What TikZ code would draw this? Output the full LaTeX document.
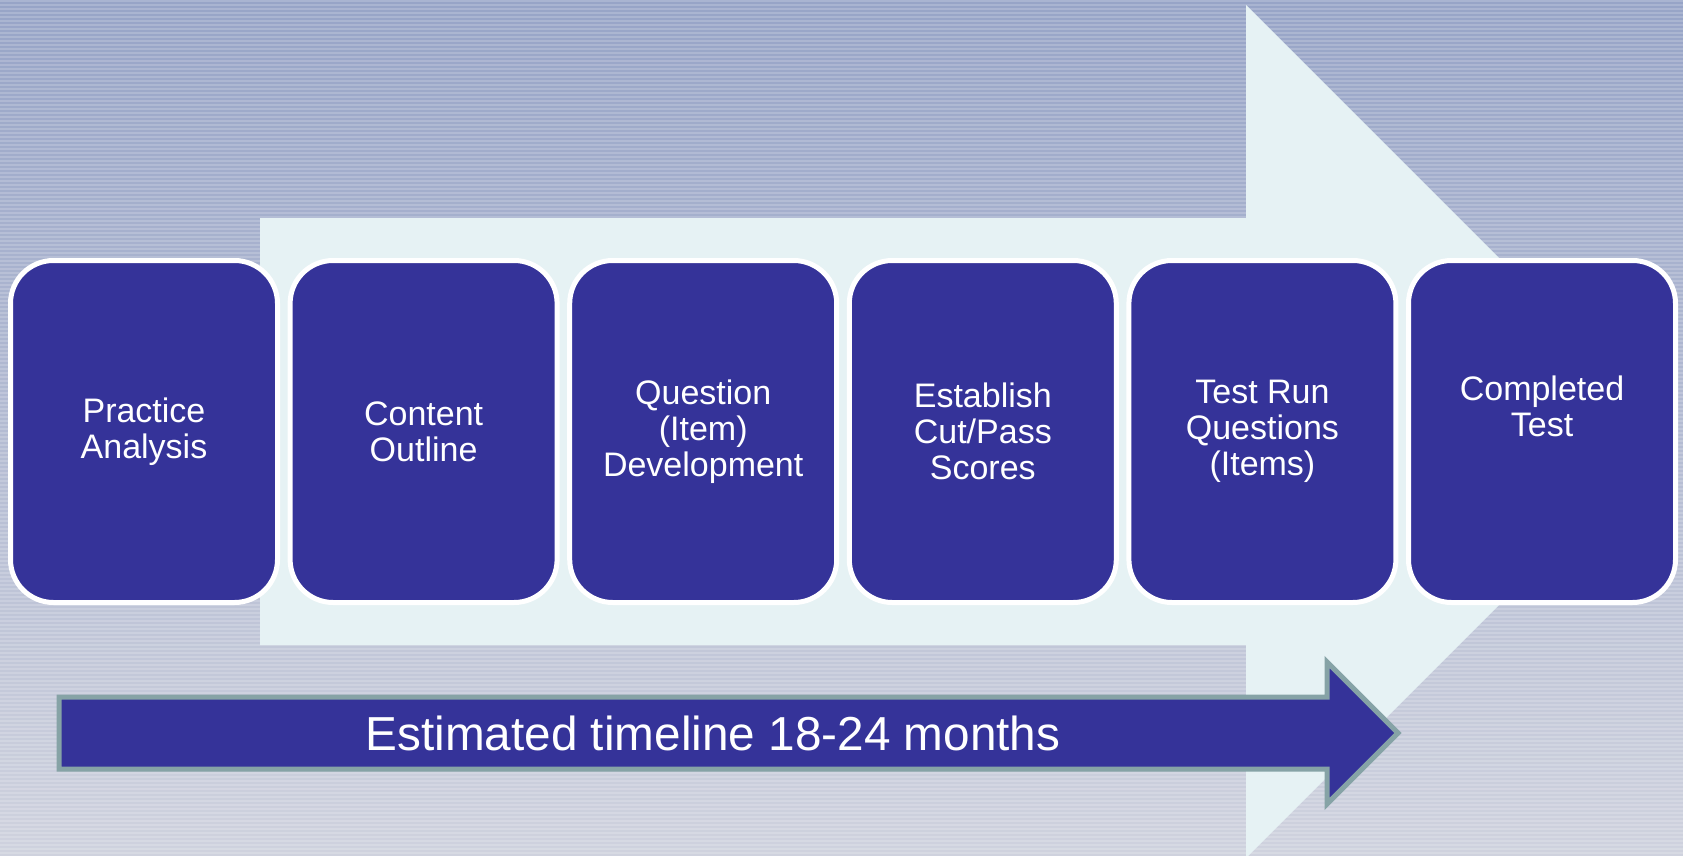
\documentclass[tikz,border=0pt]{standalone}
\usepackage{fontspec}
\setmainfont{Liberation Sans}
\usetikzlibrary{positioning}

\definecolor{stepblue}{RGB}{53,51,153}
\definecolor{arrowpale}{RGB}{230,242,244}
\definecolor{arrowrim}{RGB}{134,163,166}
\definecolor{bgtop}{RGB}{151,164,199}
\definecolor{bgbottom}{RGB}{207,210,222}

\tikzset {
  % thin lines over the background
  stripe/.style = {
    draw = white,
    opacity = 0.18,
    line width = 1.5pt
  },
  % big pale arrow behind the steps
  pale arrow/.style = {
    fill = arrowpale
  },
  % timeline arrow at the bottom
  time arrow/.style = {
    fill = stepblue,
    draw = arrowrim,
    line width = 5pt
  },
  time text/.style = {
    text = white,
    inner sep = 0,
    font = \fontsize{47.7}{50}\selectfont
  }
}
\tikzset {
  % one step of the process
  stepbox/.style = {
    draw = white,
    fill = stepblue,
    line width = 5pt,
    rounded corners = 43pt,
    minimum width = 267pt,
    minimum height = 342pt,
    inner sep = 0,
    align = center,
    text = white,
    font = \fontsize{34}{36}\selectfont
  },
  node distance = 7.6pt
}

\begin{document}
\begin{tikzpicture}[x=1pt, y=-1pt]
    \useasboundingbox (0,0) rectangle (1683,856);

    % background
    \shade[top color=bgtop, bottom color=bgbottom] (0,0) rectangle (1683,856);
    \foreach \ypos in {1,5,...,856}
      \draw[stripe] (0,\ypos) -- (1683,\ypos);

    % pale arrow
    \fill[pale arrow] (260,218)
      -- (1246,218)
      -- (1246,5)
      -- (1672.5,431.5)
      -- (1246,858)
      -- (1246,645)
      -- (260,645)
      -- cycle;

    % steps
    \node[stepbox] (practice) at (144,431.5) {Practice\\Analysis};
    \node[stepbox] (outline) [right=of practice] {Content\\Outline};
    \node[stepbox] (items) [right=of outline] {Question\\(Item)\\Development};
    \node[stepbox] (scores) [right=of items] {Establish\\Cut/Pass\\Scores};
    \node[stepbox] (testrun) [right=of scores] {Test Run\\Questions\\(Items)};
    \node[stepbox, text depth=50pt] (done) [right=of testrun] {Completed\\Test};

    % timeline
    \draw[time arrow] (59,697)
      -- (1327,697)
      -- (1327,662)
      -- (1398,733)
      -- (1327,804)
      -- (1327,769)
      -- (59,769)
      -- cycle;

    \node[time text] (timeline) at (713,733) {Estimated timeline 18-24 months};
\end{tikzpicture}
\end{document}
